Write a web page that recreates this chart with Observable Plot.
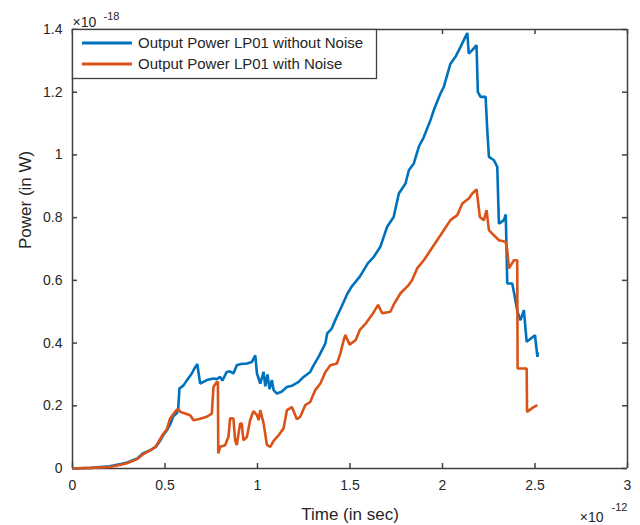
<!DOCTYPE html>
<html><head><meta charset="utf-8">
<script src="https://cdn.jsdelivr.net/npm/d3@7"></script>
<script src="https://cdn.jsdelivr.net/npm/@observablehq/plot@0.6"></script>
<style>html,body{margin:0;padding:0;background:#fff;overflow:hidden;width:640px;height:525px;} #chart svg{display:block;max-width:none !important;}</style>
</head><body><div id="chart"></div>
<script>
const blueTime = [0,0.10,0.20,0.26,0.29,0.35,0.38,0.42,0.45,0.47,0.49,0.51,0.53,0.545,0.565,0.572,0.578,0.60,0.618,0.645,0.66,0.675,0.68,0.69,0.726,0.762,0.78,0.798,0.81,0.834,0.85,0.87,0.888,0.91,0.943,0.970,0.988,0.997,1.015,1.033,1.042,1.054,1.065,1.078,1.087,1.105,1.13,1.159,1.19,1.222,1.249,1.285,1.303,1.33,1.367,1.377,1.40,1.421,1.454,1.487,1.509,1.553,1.597,1.63,1.664,1.70,1.736,1.764,1.80,1.818,1.845,1.872,1.899,1.935,1.953,1.989,2.007,2.043,2.070,2.097,2.115,2.134,2.142,2.161,2.184,2.191,2.206,2.233,2.242,2.251,2.278,2.296,2.305,2.332,2.342,2.35,2.377,2.39,2.405,2.422,2.44,2.455,2.50,2.513,2.515];
const bluePower = [0,0.002,0.007,0.014,0.018,0.032,0.048,0.058,0.069,0.085,0.106,0.122,0.143,0.167,0.177,0.196,0.255,0.265,0.281,0.303,0.32,0.333,0.31,0.271,0.282,0.287,0.285,0.292,0.28,0.308,0.31,0.303,0.329,0.333,0.335,0.340,0.361,0.303,0.271,0.308,0.262,0.30,0.253,0.282,0.25,0.239,0.245,0.260,0.265,0.276,0.292,0.308,0.329,0.356,0.399,0.431,0.445,0.474,0.516,0.559,0.580,0.612,0.655,0.676,0.707,0.770,0.802,0.877,0.909,0.951,0.973,1.026,1.057,1.111,1.143,1.196,1.217,1.291,1.313,1.344,1.366,1.389,1.323,1.334,1.350,1.201,1.185,1.185,1.079,0.994,0.983,0.962,0.781,0.792,0.81,0.59,0.59,0.55,0.50,0.473,0.505,0.404,0.425,0.356,0.37];
const orangeTime = [0,0.10,0.20,0.26,0.29,0.35,0.38,0.42,0.45,0.47,0.49,0.51,0.527,0.554,0.572,0.581,0.636,0.654,0.690,0.726,0.753,0.762,0.780,0.786,0.788,0.798,0.825,0.843,0.852,0.870,0.879,0.888,0.906,0.915,0.924,0.943,0.960,0.978,0.997,1.006,1.015,1.033,1.051,1.069,1.087,1.114,1.141,1.159,1.186,1.213,1.231,1.258,1.285,1.312,1.340,1.367,1.394,1.430,1.448,1.466,1.475,1.498,1.531,1.553,1.586,1.619,1.652,1.674,1.718,1.740,1.773,1.817,1.836,1.863,1.899,1.935,1.971,2.007,2.043,2.080,2.107,2.142,2.161,2.184,2.191,2.202,2.224,2.238,2.251,2.269,2.305,2.341,2.350,2.359,2.386,2.404,2.406,2.455,2.457,2.49,2.513];
const orangePower = [0,0.002,0.005,0.012,0.016,0.03,0.045,0.058,0.07,0.09,0.11,0.125,0.159,0.181,0.191,0.181,0.170,0.154,0.159,0.165,0.175,0.260,0.276,0.276,0.048,0.069,0.074,0.101,0.160,0.159,0.090,0.075,0.143,0.143,0.09,0.101,0.154,0.183,0.170,0.154,0.186,0.143,0.075,0.069,0.088,0.106,0.128,0.186,0.196,0.157,0.165,0.202,0.212,0.250,0.271,0.308,0.329,0.335,0.367,0.409,0.426,0.395,0.410,0.442,0.463,0.490,0.522,0.495,0.500,0.527,0.559,0.585,0.601,0.638,0.664,0.696,0.728,0.760,0.792,0.808,0.845,0.861,0.877,0.890,0.856,0.802,0.792,0.824,0.760,0.749,0.728,0.723,0.696,0.638,0.664,0.664,0.319,0.319,0.180,0.195,0.202];

const seriesNames = ["Output Power LP01 without Noise", "Output Power LP01 with Noise"];
const seriesColors = ["#0072BD", "#D95319"];
const xTicks = [0, 0.5, 1, 1.5, 2, 2.5, 3];
const yTicks = [0, 0.2, 0.4, 0.6, 0.8, 1, 1.2, 1.4];
const xDomain = [0, 3];
const yDomain = [0, 1.4];
const xLabel = "Time (in sec)";
const yLabel = "Power (in W)";
const xExponent = "-12";
const yExponent = "-18";

const W = 640, H = 525, mL = 72, mR = 13, mT = 29, mB = 57;
const pw = W - mL - mR, ph = H - mT - mB;
const ink = "#262626";
const boxInk = "#404040";
const tickPx = 5;
const tx = tickPx * (xDomain[1] - xDomain[0]) / pw;
const ty = tickPx * (yDomain[1] - yDomain[0]) / ph;

const data = [
  ...blueTime.map((t, i) => ({t, p: bluePower[i], s: seriesNames[0]})),
  ...orangeTime.map((t, i) => ({t, p: orangePower[i], s: seriesNames[1]}))
];

const plot = Plot.plot({
  width: W, height: H,
  marginLeft: mL, marginRight: mR, marginTop: mT, marginBottom: mB,
  style: {fontFamily: "'Liberation Sans', Arial, sans-serif", fontSize: "14px", color: ink, background: "#fff", maxWidth: "none"},
  x: {domain: xDomain},
  y: {domain: yDomain},
  color: {domain: seriesNames, range: seriesColors},
  marks: [
    Plot.axisX(xTicks, {tickSize: 0, tickPadding: 12, fontSize: 14, label: null, tickFormat: d => String(d), fill: ink}),
    Plot.axisY(yTicks, {tickSize: 0, tickPadding: 10, fontSize: 14, label: null, tickFormat: d => String(d), fill: ink}),
    // box and inward ticks (drawn before the data, like the working rules)
    Plot.ruleY(yDomain, {stroke: boxInk, strokeWidth: 1.5}),
    Plot.ruleX(xDomain, {stroke: boxInk, strokeWidth: 1.5}),
    Plot.ruleX(xTicks, {x: d => d, y1: yDomain[0], y2: yDomain[0] + ty, stroke: boxInk, strokeWidth: 1.5}),
    Plot.ruleX(xTicks, {x: d => d, y1: yDomain[1] - ty, y2: yDomain[1], stroke: boxInk, strokeWidth: 1.5}),
    Plot.ruleY(yTicks, {y: d => d, x1: xDomain[0], x2: xDomain[0] + tx, stroke: boxInk, strokeWidth: 1.5}),
    Plot.ruleY(yTicks, {y: d => d, x1: xDomain[1] - tx, x2: xDomain[1], stroke: boxInk, strokeWidth: 1.5}),
    Plot.line(data, {x: "t", y: "p", z: "s", stroke: "s", strokeWidth: 2.6, strokeLinejoin: "miter", strokeLinecap: "butt"}),
    Plot.text([xLabel], {frameAnchor: "bottom", dy: 51, lineAnchor: "bottom", fontSize: 17, fill: ink}),
    Plot.text([yLabel], {frameAnchor: "left", dx: -47, rotate: -90, lineAnchor: "middle", fontSize: 17, fill: ink}),
    Plot.text(["×10"], {frameAnchor: "top-left", textAnchor: "start", lineAnchor: "bottom", dy: -3, fontSize: 14, fill: ink}),
    Plot.text([yExponent], {frameAnchor: "top-left", textAnchor: "start", lineAnchor: "bottom", dx: 31, dy: -10, fontSize: 11, fill: ink}),
    Plot.text(["×10"], {frameAnchor: "bottom-right", textAnchor: "end", lineAnchor: "bottom", dx: -24, dy: 53, fontSize: 14, fill: ink}),
    Plot.text([xExponent], {frameAnchor: "bottom-right", textAnchor: "end", lineAnchor: "bottom", dx: 0, dy: 42, fontSize: 11, fill: ink})
  ]
});

const sx = plot.scale("x"), sy = plot.scale("y");
const svg = d3.select(plot);
const lx = sx.apply(xDomain[0]), ly = sy.apply(yDomain[1]);
const lg = svg.append("g");
lg.append("rect").attr("x", Math.round(lx) + 0.5).attr("y", Math.round(ly) + 0.5)
  .attr("width", 304).attr("height", 49).attr("fill", "#fff").attr("stroke", boxInk).attr("stroke-width", 1.3);
seriesNames.forEach((name, i) => {
  const y = ly + 14 + i * 21;
  lg.append("line").attr("x1", lx + 10).attr("x2", lx + 60).attr("y1", y).attr("y2", y)
    .attr("stroke", seriesColors[i]).attr("stroke-width", 3);
  lg.append("text").attr("x", lx + 66).attr("y", y).attr("dy", "0.35em").attr("text-anchor", "start")
    .attr("font-size", 15).attr("fill", ink).text(name);
});

document.getElementById("chart").appendChild(plot);
</script>
</body></html>
